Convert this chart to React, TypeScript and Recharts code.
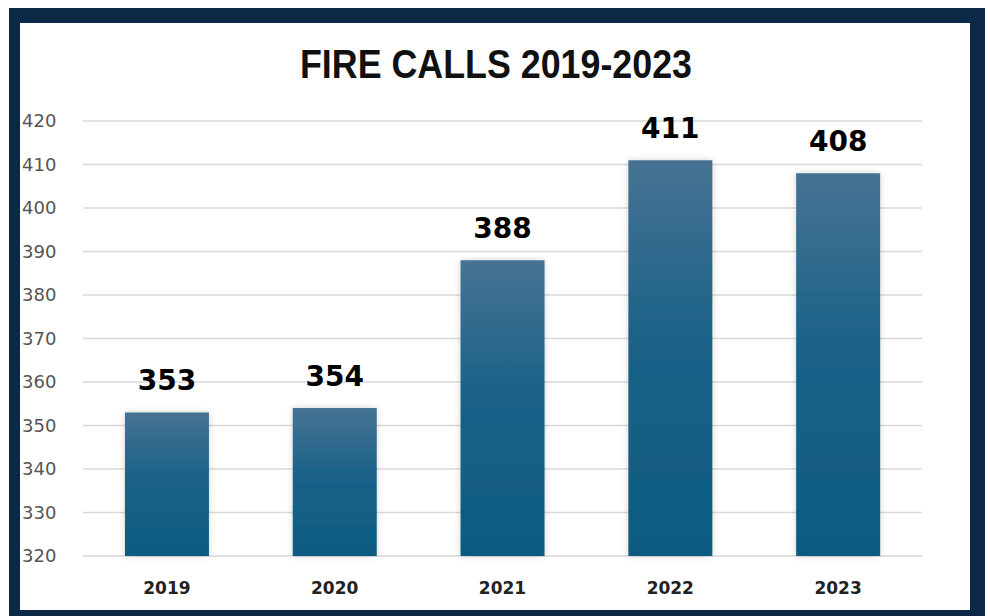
import { BarChart, Bar, XAxis, YAxis, CartesianGrid, LabelList } from 'recharts'

const years = ['2019', '2020', '2021', '2022', '2023']
const fireCalls = [353, 354, 388, 411, 408]
const yTicks = [320, 330, 340, 350, 360, 370, 380, 390, 400, 410, 420]

const data = years.map((year, i) => ({ year, calls: fireCalls[i] }))

function YTick(props: any) {
	const { y, payload } = props
	return (
		<text x={22} y={y} dy={6} textAnchor='start' fill='#555' fontSize={18} fontFamily='DejaVu Sans'>
			{payload.value}
		</text>
	)
}

function XTick(props: any) {
	const { x, y, payload } = props
	return (
		<text x={x} y={y} dy={30} textAnchor='middle' fill='#222' fontSize={17} fontWeight='bold' fontFamily='DejaVu Sans'>
			{payload.value}
		</text>
	)
}

function ValueLabel(props: any) {
	const { x, y, width, value } = props
	return (
		<text x={x + width / 2} y={y - 22} textAnchor='middle' fill='#000' fontSize={28} fontWeight='bold' fontFamily='DejaVu Sans'>
			{value}
		</text>
	)
}

function App() {
	return (
		<div style={{ position: 'absolute', left: 0, top: 0, width: 990, height: 616, background: '#fff', overflow: 'hidden' }}>
			<div
				style={{
					position: 'absolute',
					left: 9,
					top: 8,
					width: 976,
					height: 608,
					boxSizing: 'border-box',
					borderStyle: 'solid',
					borderColor: '#0c2847',
					borderWidth: '15px 15px 6px 11px',
					background: '#fff'
				}}
			/>
			<div style={{ position: 'absolute', left: 0, top: 0 }}>
				<BarChart
					width={990}
					height={616}
					data={data}
					margin={{ top: 121, right: 68, left: 0, bottom: 20 }}
					barCategoryGap='25%'
				>
					<defs>
						<linearGradient id='barFill' x1='0' y1='0' x2='0' y2='1'>
							<stop offset='0%' stopColor='#467393' />
							<stop offset='45%' stopColor='#1b6288' />
							<stop offset='100%' stopColor='#0c5a80' />
						</linearGradient>
						<filter id='barShadow' x='-20%' y='-5%' width='140%' height='110%'>
							<feDropShadow dx='0' dy='0' stdDeviation='3' floodColor='#000' floodOpacity='0.18' />
						</filter>
					</defs>
					<CartesianGrid vertical={false} stroke='#d9d9d9' strokeWidth={1.5} />
					<XAxis dataKey='year' axisLine={false} tickLine={false} height={40} tick={<XTick />} />
					<YAxis
						domain={[320, 420]}
						ticks={yTicks}
						width={83}
						axisLine={false}
						tickLine={false}
						tick={<YTick />}
						interval={0}
					/>
					<Bar dataKey='calls' fill='url(#barFill)' filter='url(#barShadow)' isAnimationActive={false}>
						<LabelList dataKey='calls' content={<ValueLabel />} />
					</Bar>
				</BarChart>
			</div>
			<svg style={{ position: 'absolute', left: 0, top: 0 }} width={990} height={100}>
				<text
					x={496}
					y={78}
					textAnchor='middle'
					fontSize={41}
					fontWeight='bold'
					fontFamily='Liberation Sans'
					fill='#111'
					textLength={392}
					lengthAdjust='spacingAndGlyphs'
				>
					FIRE CALLS 2019-2023
				</text>
			</svg>
		</div>
	)
}

export default App
